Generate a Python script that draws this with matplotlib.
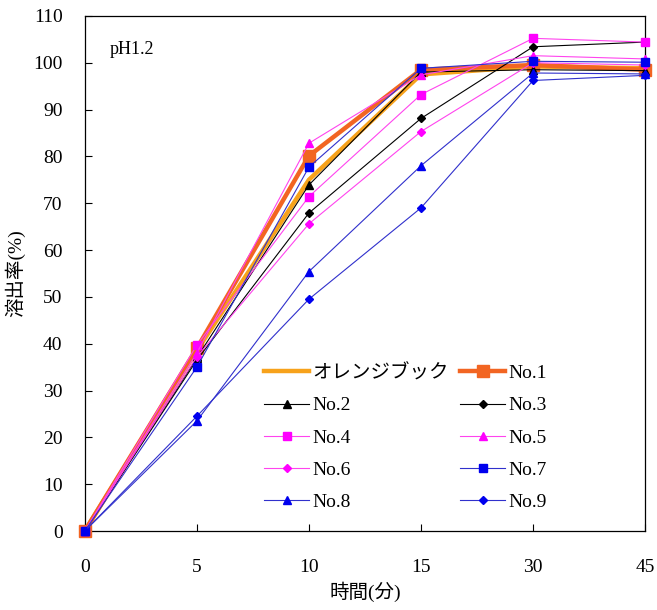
import numpy as np
import matplotlib.pyplot as plt

plt.rcParams['font.family'] = ['Liberation Serif', 'Noto Sans CJK JP']

times = ["0", "5", "10", "15", "30", "45"]

book = [0, 38.5, 75.0, 97.5, 99.2, 98.8]
no1 = [0, 39.0, 80.1, 98.5, 99.5, 98.5]
no2 = [0, 37.0, 73.9, 98.0, 98.5, 98.3]
no3 = [0, 36.5, 67.9, 88.1, 103.4, 104.4]
no4 = [0, 39.7, 71.4, 93.2, 105.2, 104.4]
no5 = [0, 38.0, 82.8, 97.4, 101.5, 100.8]
no6 = [0, 37.2, 65.6, 85.3, 100.0, 99.5]
no7 = [0, 35.0, 77.7, 98.8, 100.3, 100.1]
no8 = [0, 23.5, 55.4, 78.0, 97.8, 97.6]
no9 = [0, 24.5, 49.5, 69.0, 96.2, 97.3]

x = np.arange(len(times))

fig = plt.figure(figsize=(6.57, 6.10), dpi=100)
ax = fig.add_axes([0.129, 0.1295, 0.853, 0.8445])

black = "#000000"
mag_line, mag = "#FF44EE", "#FF00FF"
blue_line, blue = "#3030CC", "#0000EE"

h = {}
h["book"], = ax.plot(x, book, color="#F7A21B", lw=3.2, label="オレンジブック", zorder=3)
h["no1"], = ax.plot(x, no1, color="#F26522", lw=3.2, marker="s", ms=9, label="No.1", zorder=3)
h["no2"], = ax.plot(x, no2, color=black, lw=0.8, marker="^", ms=6, label="No.2", zorder=4)
h["no3"], = ax.plot(x, no3, color=black, lw=0.8, marker="D", ms=4.5, label="No.3", zorder=4)
h["no4"], = ax.plot(x, no4, color=mag_line, mfc=mag, mec=mag, lw=0.8, marker="s", ms=6, label="No.4", zorder=4)
h["no5"], = ax.plot(x, no5, color=mag_line, mfc=mag, mec=mag, lw=0.8, marker="^", ms=6, label="No.5", zorder=4)
h["no6"], = ax.plot(x, no6, color=mag_line, mfc=mag, mec=mag, lw=0.8, marker="D", ms=4.5, label="No.6", zorder=4)
h["no7"], = ax.plot(x, no7, color=blue_line, mfc=blue, mec=blue, lw=0.8, marker="s", ms=6, label="No.7", zorder=4)
h["no8"], = ax.plot(x, no8, color=blue_line, mfc=blue, mec=blue, lw=0.8, marker="^", ms=6, label="No.8", zorder=4)
h["no9"], = ax.plot(x, no9, color=blue_line, mfc=blue, mec=blue, lw=0.8, marker="D", ms=4.5, label="No.9", zorder=4)
for line in h.values():
    line.set_clip_on(False)

ax.set_xlim(0, len(times) - 1)
ax.set_ylim(0, 110)
ax.set_xticks(x)
ax.set_xticklabels(times)
ax.set_yticks(np.arange(0, 111, 10))
ax.tick_params(axis="both", direction="in", length=5, labelsize=14, width=0.8)
ax.tick_params(axis="x", pad=20)
ax.tick_params(axis="y", pad=16)
for s in ax.spines.values():
    s.set_linewidth(0.9)

ax.set_xlabel("時間(分)", fontsize=14, labelpad=4)
ax.set_ylabel("溶出率(%)", fontsize=14, labelpad=6)
ax.text(0.045, 0.935, "pH1.2", transform=ax.transAxes, fontsize=13, va="center")

# row-wise order in two columns
order = ["book", "no2", "no4", "no6", "no8", "no1", "no3", "no5", "no7", "no9"]
ax.legend([h[k] for k in order], [h[k].get_label() for k in order],
          loc="lower right", bbox_to_anchor=(0.855, 0.005), ncol=2, frameon=False,
          fontsize=14, handlelength=2.3, handletextpad=0.15, columnspacing=0.6,
          labelspacing=0.75, markerscale=0.9)

fig.savefig("out.png", dpi=100)
